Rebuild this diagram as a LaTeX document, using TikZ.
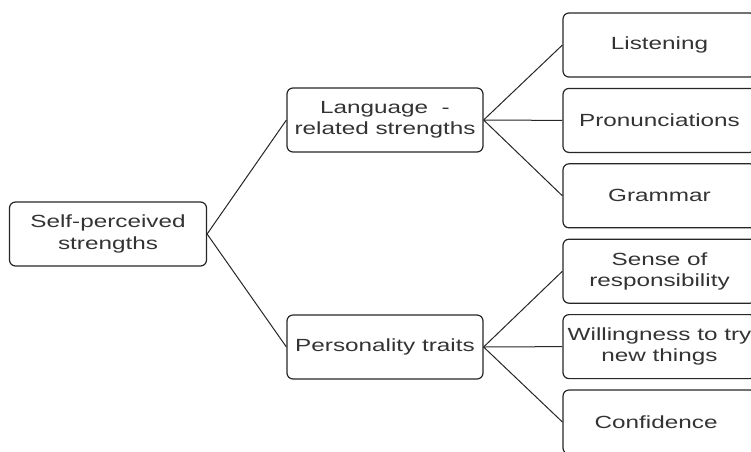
\documentclass[tikz,border=0pt]{standalone}
\usepackage{fontspec}
\setmainfont{Liberation Sans}[FakeStretch=1.38]
\begin{document}
\begin{tikzpicture}[x=1pt,y=-1pt,
    caja/.style={draw=black!85, line width=1.2pt, rounded corners=6pt, align=center,
        minimum height=64pt, inner sep=0pt, text=black!80,
        font=\fontsize{17.6}{21.5}\selectfont},
    rama/.style={draw=black!85, line width=1pt}]
    \clip (0,0) rectangle (751,451);
    % Raiz
    \node[caja, minimum width=197pt] (self) at (108,234) {Self-perceived\\strengths};
    % Nivel 1
    \node[caja, minimum width=196pt] (lang) at (385,120) {Language~~-\\related strengths};
    \node[caja, minimum width=196pt] (pers) at (385,347) {Personality traits};
    \draw[rama] (self.east) -- (lang.west);
    \draw[rama] (self.east) -- (pers.west);
    % Nivel 2
    \foreach \i/\nombre/\padre/\val in {
        0/listen/lang/Listening,
        1/pron/lang/Pronunciations,
        2/gram/lang/Grammar,
        3/sense/pers/{Sense of\\responsibility},
        4/will/pers/{Willingness to try\\new things},
        5/conf/pers/Confidence
        } {
        \node[caja, minimum width=193pt] (\nombre) at (659.5, 45+75.4*\i) {\val};
        \draw[rama] (\padre.east) -- (\nombre.west);
    }
\end{tikzpicture}
\end{document}
